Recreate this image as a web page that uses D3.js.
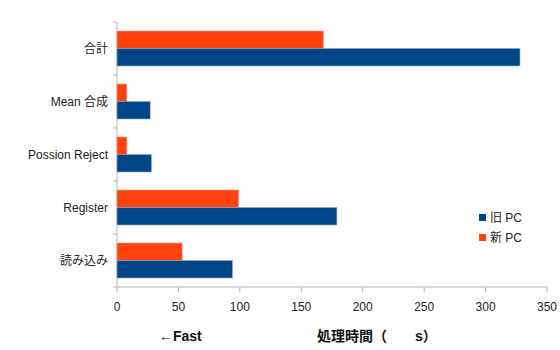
<!DOCTYPE html>
<html>
<head>
<meta charset="utf-8">
<script src="https://cdn.jsdelivr.net/npm/d3@7"></script>
<style>
  body { margin: 0; background: #fff; }
  svg { font-family: "Liberation Sans", "Noto Sans CJK JP", sans-serif; }
</style>
</head>
<body>
<div class="viz"></div>
<script>
// categories top to bottom
const categories = ["合計", "Mean 合成", "Possion Reject", "Register", "読み込み"];
const seriesNames = ["新 PC", "旧 PC"];
const newPC = [168, 8, 8, 99, 53];
const oldPC = [328, 27, 28, 179, 94];
const xTicks = [0, 50, 100, 150, 200, 250, 300, 350];
const colors = { "旧 PC": "#004586", "新 PC": "#ff420e" };

var margin = { top: 22, right: 13, bottom: 63, left: 117 },
    width = 560 - margin.left - margin.right,
    height = 350 - margin.top - margin.bottom;

var svg = d3.select(".viz").append("svg")
    .attr("width", 560).attr("height", 350);

var g = svg.append("g").attr("transform", `translate(${margin.left},${margin.top})`);

var x = d3.scaleLinear().domain([0, 350]).range([0, width]);
var y = d3.scaleBand().domain(categories).range([0, height])
    .paddingInner(0.34).paddingOuter(0.17);
var ySub = d3.scaleBand().domain(seriesNames).range([0, y.bandwidth()]);

var step = y.step();

// axis lines
g.append("line").attr("x1", 0).attr("x2", 0).attr("y1", 0).attr("y2", height)
    .attr("stroke", "#b3b3b3");
g.append("line").attr("x1", 0).attr("x2", width).attr("y1", height).attr("y2", height)
    .attr("stroke", "#b3b3b3");

// y ticks at band boundaries
g.selectAll("line.ytick").data(d3.range(categories.length + 1)).enter()
    .append("line").attr("class", "ytick")
    .attr("x1", -4).attr("x2", 0)
    .attr("y1", (i) => i * step).attr("y2", (i) => i * step)
    .attr("stroke", "#b3b3b3");

// x ticks
g.selectAll("line.xtick").data(xTicks).enter()
    .append("line").attr("class", "xtick")
    .attr("x1", (d) => x(d)).attr("x2", (d) => x(d))
    .attr("y1", height).attr("y2", height + 5)
    .attr("stroke", "#b3b3b3");

g.selectAll("text.xlab").data(xTicks).enter()
    .append("text").attr("class", "xlab")
    .attr("x", (d) => x(d)).attr("y", height + 24)
    .attr("text-anchor", "middle")
    .attr("font-size", 12).attr("fill", "#222")
    .text((d) => d);

g.selectAll("text.ylab").data(categories).enter()
    .append("text").attr("class", "ylab")
    .attr("x", -9).attr("y", (d) => y(d) + y.bandwidth() / 2 + 4)
    .attr("text-anchor", "end")
    .attr("font-size", 12).attr("fill", "#222")
    .text((d) => d);

// bars
var rows = categories.map((c, i) => ({ cat: c, "新 PC": newPC[i], "旧 PC": oldPC[i] }));
seriesNames.forEach((s) => {
    g.selectAll(null).data(rows).enter()
        .append("rect")
        .attr("x", 0)
        .attr("y", (d) => y(d.cat) + ySub(s))
        .attr("width", (d) => x(d[s]))
        .attr("height", ySub.bandwidth())
        .attr("fill", colors[s])
        .attr("stroke", s === "旧 PC" ? "#8fa9c8" : "#ff9a7a")
        .attr("stroke-width", 0.6);
});

// legend
var legendItems = ["旧 PC", "新 PC"];
var lg = svg.append("g").attr("transform", "translate(479,214)");
legendItems.forEach((s, i) => {
    lg.append("rect").attr("x", 0).attr("y", i * 20).attr("width", 7).attr("height", 7)
        .attr("fill", colors[s]);
    lg.append("text").attr("x", 11).attr("y", i * 20 + 7.5)
        .attr("font-size", 12).attr("fill", "#222").text(s);
});

// axis titles
svg.append("text").attr("x", 159).attr("y", 341)
    .attr("font-size", 14).attr("font-weight", "bold").attr("fill", "#111")
    .text("←Fast");
svg.append("text").attr("x", 317).attr("y", 341)
    .attr("font-size", 14).attr("font-weight", "bold").attr("fill", "#111")
    .attr("xml:space", "preserve").style("white-space", "pre")
    .text("処理時間（　　s）");
</script>
</body>
</html>
